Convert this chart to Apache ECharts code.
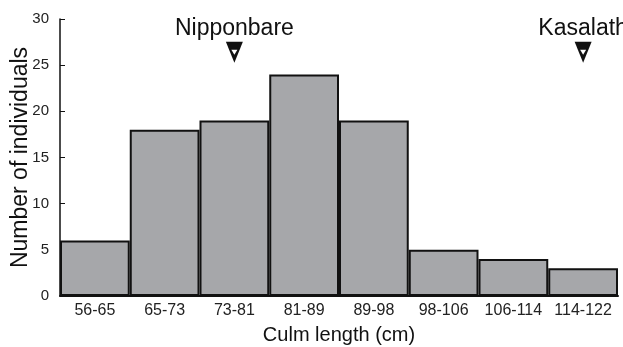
<!DOCTYPE html>
<html>
<head>
<meta charset="utf-8">
<script src="https://cdn.jsdelivr.net/npm/echarts@6/dist/echarts.min.js"></script>
<style>
  html, body { margin: 0; padding: 0; background: #fff; }
  #chart { width: 623px; height: 347px; }
</style>
</head>
<body>
<div id="chart"></div>
<script>
const categories = ['56-65', '65-73', '73-81', '81-89', '89-98', '98-106', '106-114', '114-122'];
const counts = [6, 18, 19, 24, 19, 5, 4, 3];
const parentNames = ['Nipponbare', 'Kasalath'];
const parentClasses = ['73-81', '114-122'];
const parentMarkY = [26.4, 26.4];

const font = 'Liberation Sans, Arial, sans-serif';
const chart = echarts.init(document.getElementById('chart'));

// label nudges so the names sit where the original put them
const labelShift = [[5, 0], [-14, 0]];

const parentData = parentClasses.map((c, i) => ({
  value: [c, parentMarkY[i]],
  name: parentNames[i],
  label: { offset: labelShift[i] }
}));

chart.setOption({
  animation: false,
  grid: { left: 60, right: 5, top: 19, bottom: 51, outerBoundsMode: 'none' },
  xAxis: {
    type: 'category',
    data: categories,
    name: 'Culm length (cm)',
    nameLocation: 'middle',
    nameGap: 29,
    nameMoveOverlap: false,
    nameTextStyle: { color: '#111', fontSize: 20, fontFamily: font },
    axisLine: { lineStyle: { color: '#111', width: 2 } },
    axisTick: { show: false },
    axisLabel: { color: '#222', fontSize: 16, fontFamily: font, margin: 7, interval: 0 }
  },
  yAxis: {
    type: 'value',
    min: 0,
    max: 30,
    interval: 5,
    name: 'Number of individuals',
    nameLocation: 'middle',
    nameGap: 28,
    nameMoveOverlap: false,
    nameTextStyle: { color: '#111', fontSize: 23, fontFamily: font },
    axisLine: { show: true, lineStyle: { color: '#111', width: 1.5 } },
    axisTick: { show: true, inside: true, length: 5, lineStyle: { color: '#111' } },
    axisLabel: { color: '#222', fontSize: 15, fontFamily: font, margin: 11 },
    splitLine: { show: false }
  },
  series: [
    {
      type: 'bar',
      data: counts,
      barCategoryGap: 0,
      itemStyle: { color: '#a6a7aa', borderColor: '#111', borderWidth: 2 }
    },
    {
      type: 'scatter',
      data: parentData,
      symbol: 'triangle',
      symbolRotate: 180,
      symbolSize: [17, 21],
      symbolOffset: [[-2, 0], [3, 0]],
      itemStyle: { color: '#111', opacity: 1 },
      label: {
        show: true,
        position: 'top',
        distance: 2,
        formatter: p => p.name,
        color: '#111',
        fontSize: 23,
        fontFamily: font
      },
      labelLayout: { hideOverlap: false },
      z: 5
    },
    {
      type: 'scatter',
      data: parentData.map(d => d.value),
      symbol: 'triangle',
      symbolRotate: 180,
      symbolSize: [6, 5],
      symbolOffset: [[-2, -5], [3, -5]],
      itemStyle: { color: '#fff', opacity: 1 },
      z: 6
    }
  ]
});
</script>
</body>
</html>
